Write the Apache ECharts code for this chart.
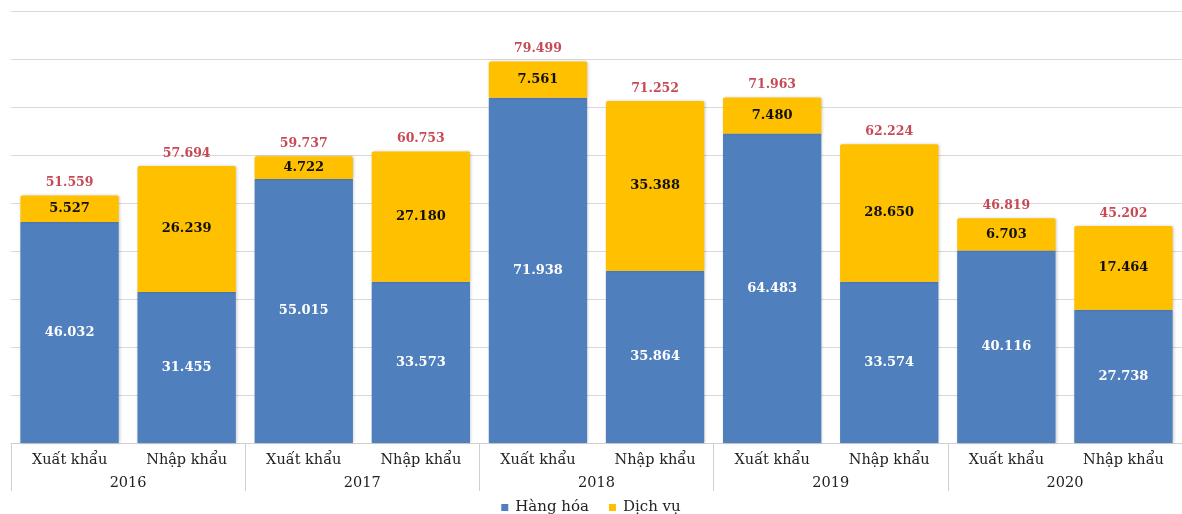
<!DOCTYPE html>
<html>
<head>
<meta charset="utf-8">
<script src="https://cdn.jsdelivr.net/npm/echarts@6/dist/echarts.min.js"></script>
<style>
html,body{margin:0;padding:0;background:#fff;}
#c{width:1182px;height:514px;}
</style>
</head>
<body>
<div id="c"></div>
<script>
var categories = ['Xuất khẩu','Nhập khẩu','Xuất khẩu','Nhập khẩu','Xuất khẩu','Nhập khẩu','Xuất khẩu','Nhập khẩu','Xuất khẩu','Nhập khẩu'];
var years = ['2016','2017','2018','2019','2020'];
var hangHoa = [46.032, 31.455, 55.015, 33.573, 71.938, 35.864, 64.483, 33.574, 40.116, 27.738];
var dichVu = [5.527, 26.239, 4.722, 27.180, 7.561, 35.388, 7.480, 28.650, 6.703, 17.464];
var totals = [51.559, 57.694, 59.737, 60.753, 79.499, 71.252, 71.963, 62.224, 46.819, 45.202];

var serif = '"DejaVu Serif","Liberation Serif",serif';
var chart = echarts.init(document.getElementById('c'));
chart.setOption({
  animation: false,
  backgroundColor: '#fff',
  grid: {left: 11, right: -3, top: 11, bottom: 71, containLabel: false},
  legend: {
    data: ['Hàng hóa','Dịch vụ'],
    top: 500, left: 'center', padding: 0,
    itemWidth: 7, itemHeight: 7, itemGap: 20,
    icon: 'rect',
    textStyle: {fontFamily: serif, fontSize: 15, color: '#222', padding: [0, 0, 0, 2]}
  },
  xAxis: [{
    type: 'category', data: categories, position: 'bottom',
    axisLine: {show: true, lineStyle: {color: '#d0d0d0'}},
    axisTick: {show: false},
    axisLabel: {margin: 10, fontFamily: serif, fontSize: 14.5, color: '#222', interval: 0}
  }, {
    type: 'category', data: years, position: 'bottom',
    axisLine: {show: false},
    axisTick: {show: true, length: 48, alignWithLabel: false, lineStyle: {color: '#d0d0d0'}},
    axisLabel: {margin: 33, fontFamily: serif, fontSize: 14.5, color: '#222'}
  }],
  yAxis: {
    type: 'value', min: 0, max: 90, interval: 10,
    axisLabel: {show: false}, axisLine: {show: false}, axisTick: {show: false},
    splitLine: {lineStyle: {color: '#d9d9d9'}}
  },
  series: [{
    name: 'Hàng hóa', type: 'bar', stack: 's', barWidth: '84%',
    data: hangHoa,
    itemStyle: {color: '#4f7fbd', shadowColor: 'rgba(0,0,0,0.2)', shadowBlur: 3, shadowOffsetX: 1},
    label: {show: true, position: 'inside', color: '#fff', fontWeight: 'bold', fontFamily: serif, fontSize: 13,
      formatter: function(p){return p.value.toFixed(3);}}
  }, {
    name: 'Dịch vụ', type: 'bar', stack: 's',
    data: dichVu,
    itemStyle: {color: '#ffc000', borderRadius: [2,2,0,0], shadowColor: 'rgba(0,0,0,0.2)', shadowBlur: 3, shadowOffsetX: 1},
    label: {show: true, position: 'inside', color: '#111', fontWeight: 'bold', fontFamily: serif, fontSize: 13,
      formatter: function(p){return p.value.toFixed(3);}}
  }, {
    name: 'Tổng', type: 'scatter', data: totals, symbolSize: 0, silent: true,
    label: {show: true, position: 'top', distance: 6, color: '#b81c2b', fontWeight: 'bold', fontFamily: serif, fontSize: 12.5,
      formatter: function(p){return p.value.toFixed(3);}}
  }]
});
</script>
</body>
</html>
